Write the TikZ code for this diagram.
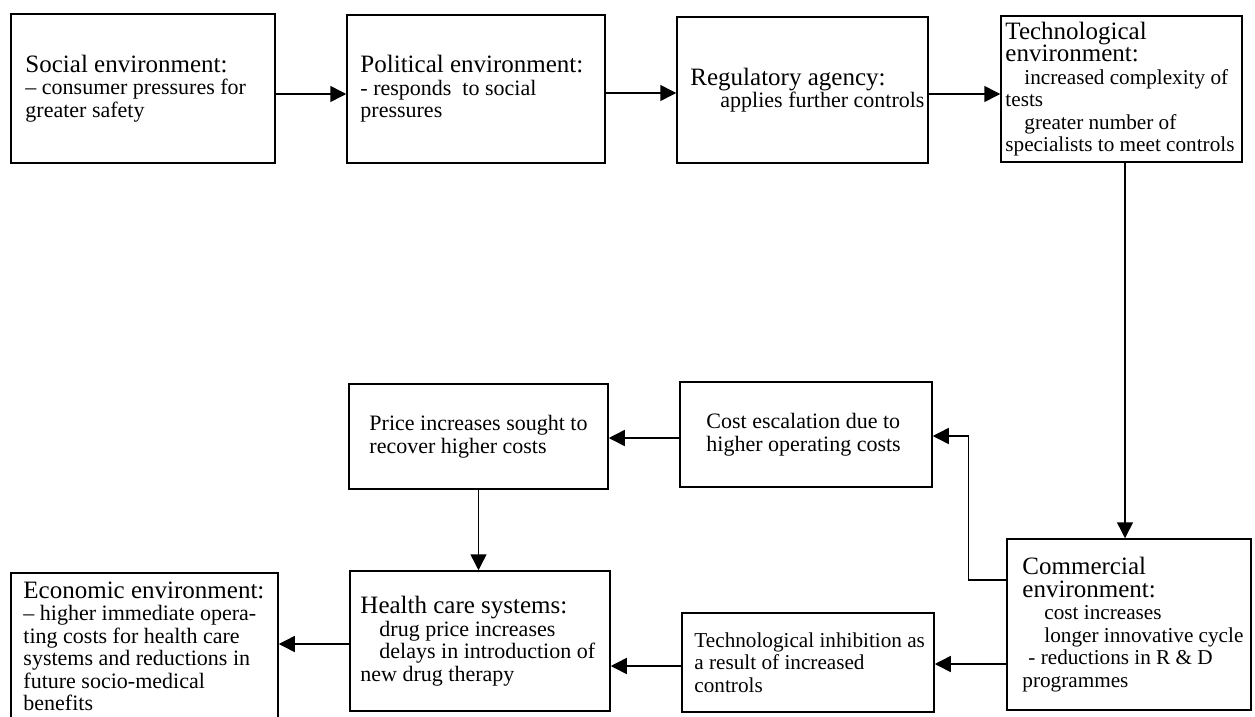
\documentclass[tikz,border=0pt]{standalone}
\usepackage{fontspec}
\setmainfont{Liberation Serif}
\usetikzlibrary{arrows.meta}
\newcommand\ttl[1]{{\fontsize{25}{22.5}\selectfont #1}}
\tikzset{
  box/.style={draw, line width=1.5pt, inner sep=0pt},
  txt/.style={align=left, inner sep=0pt, anchor=west,
    font=\fontsize{22}{22.5}\selectfont},
  small/.style={font=\fontsize{21.2}{22.5}\selectfont},
  arr/.style={line width=1.5pt, -{Triangle[length=16pt,width=16pt]}},
}
% name, cx, cy, width, height, pad, extra text options -> box node (name) and text node (name-t)
\newcommand\bx[7]{\node[box, minimum width=#4pt, minimum height=#5pt] (#1) at (#2,#3) {};
  \node[txt,#7] (#1-t) at ([xshift=#6pt]#1.west)}
\begin{document}
\setlength{\lineskiplimit}{-20pt}
\begin{tikzpicture}[x=1pt,y=-1pt]
\fill[white] (0,0) rectangle (1255,717);
\useasboundingbox (0,0) rectangle (1255,717);

\bx{social}{143}{88.5}{264}{149}{15}{}
  {\ttl{Social environment:}\\ -- consumer pressures for\\ greater safety};
\bx{political}{476}{89}{258}{148}{14}{}
  {\ttl{Political environment:}\\ - responds\ \ to social\\ pressures};
\bx{regulatory}{802.5}{90}{251}{146}{14}{}
  {\ttl{Regulatory agency:}\\ \hspace*{30pt}applies further controls};
\bx{tech}{1121.5}{89}{241}{146}{5}{small}
  {\ttl{Technological}\\ \ttl{environment:}\\ \hspace*{19pt}increased complexity of\\ tests\\ \hspace*{19pt}greater number of\\ specialists to meet controls};

\bx{price}{478.5}{436.5}{259}{105}{21}{}
  {Price increases sought to\\ recover higher costs};
\bx{cost}{806}{434.5}{252}{105}{27}{}
  {Cost escalation due to\\ higher operating costs};

\bx{comm}{1129}{624.5}{244}{171}{16}{small}
  {\ttl{Commercial}\\ \ttl{environment:}\\ \hspace*{22pt}cost increases\\ \hspace*{22pt}longer innovative cycle\\ \hspace*{6pt}- reductions in R \& D\\ programmes};
\bx{tinh}{808}{662.5}{252}{99}{13}{small}
  {Technological inhibition as\\ a result of increased\\ controls};
\bx{health}{480}{641}{260}{140}{11}{}
  {\ttl{Health care systems:}\\ \hspace*{19pt}drug price increases\\ \hspace*{19pt}delays in introduction of\\ new drug therapy};
\bx{econ}{144.5}{646.5}{267}{147}{13}{}
  {\ttl{Economic environment:}\\ -- higher immediate opera-\\ ting costs for health care\\ systems and reductions in\\ future socio-medical\\ benefits};

\draw[arr] ([yshift=-5.5pt]social.east) -- ([yshift=-5.5pt]social.east -| political.west);
\draw[arr] ([yshift=-4pt]political.east) -- ([yshift=-4pt]political.east -| regulatory.west);
\draw[arr] ([yshift=-4pt]regulatory.east) -- ([yshift=-4pt]regulatory.east -| tech.west);
\draw[arr] ([xshift=3.5pt]tech.south) -- ([xshift=3.5pt]tech.south |- comm.north);
\draw[arr] ([yshift=44.5pt]comm.west) -- ++(-38,0) |- ([yshift=-1.5pt]cost.east);
\draw[arr] ([yshift=-3.5pt]cost.west) -- ([yshift=-3.5pt]cost.west -| price.east);
\draw[arr] (price.south) -- (price.south |- health.north);
\draw[arr] ([yshift=-39.5pt]comm.west) -- ([yshift=-39.5pt]comm.west -| tinh.east);
\draw[arr] ([yshift=-3.5pt]tinh.west) -- ([yshift=-3.5pt]tinh.west -| health.east);
\draw[arr] ([yshift=-3pt]health.west) -- ([yshift=-3pt]health.west -| econ.east);
\end{tikzpicture}
\end{document}
